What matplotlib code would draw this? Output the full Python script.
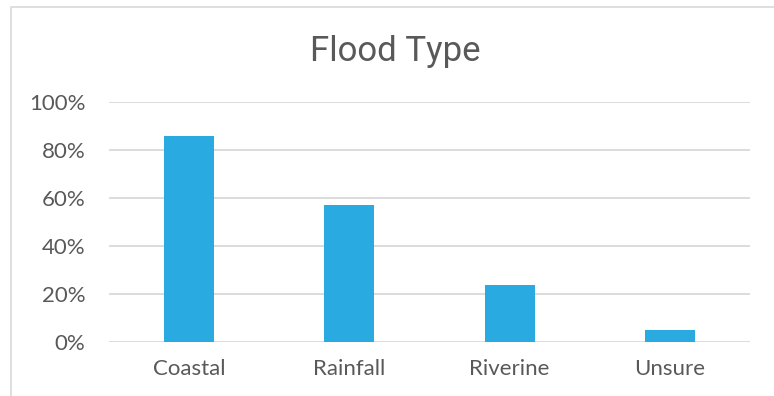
import matplotlib.pyplot as plt
from matplotlib.patches import Rectangle
from matplotlib.ticker import PercentFormatter

categories = ["Coastal", "Rainfall", "Riverine", "Unsure"]
shares = [0.857, 0.571, 0.238, 0.048]
yticks = [0, 0.2, 0.4, 0.6, 0.8, 1.0]

BAR = "#29ABE2"
TEXT = "#595959"
GRID = "#D9D9D9"

plt.rcParams['font.family'] = ['Lato', 'DejaVu Sans']

fig = plt.figure(figsize=(7.74, 3.96), dpi=100)
ax = fig.add_axes([109/774, 54/396, 641/774, 240/396])

# chart frame, cut by the image edges on the right and bottom
fig.patches.append(Rectangle((11/774, -0.1), 1.2, (396-7)/396 + 0.1,
                             transform=fig.transFigure, fill=False,
                             edgecolor=GRID, linewidth=1.2, clip_on=False))

x = range(len(categories))
ax.bar(x, shares, width=0.3125, color=BAR, zorder=2)

ax.set_xlim(-0.5, len(categories) - 0.5)
ax.set_ylim(0, 1)
ax.set_yticks(yticks)
ax.yaxis.set_major_formatter(PercentFormatter(1.0, decimals=0))
ax.set_xticks(list(x))
ax.set_xticklabels(categories)
ax.grid(axis='y', color=GRID, linewidth=1.3, zorder=0)
ax.set_axisbelow(True)
for s in ax.spines.values():
    s.set_visible(False)
ax.tick_params(axis='both', length=0, colors=TEXT, labelsize=16)
ax.tick_params(axis='x', pad=12)
ax.tick_params(axis='y', pad=17)

fig.text(395/774, 1 - 51/396, "Flood Type", ha='center', va='center',
         fontsize=25, color=TEXT, family=['Roboto', 'DejaVu Sans'])

fig.savefig("out.png", dpi=100)
